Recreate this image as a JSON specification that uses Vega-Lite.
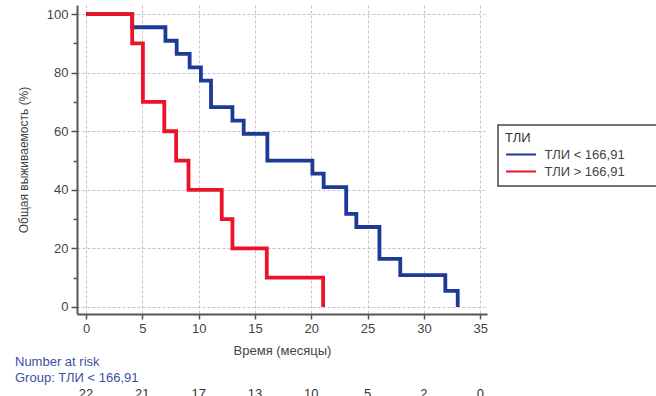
{
  "$schema": "https://vega.github.io/schema/vega-lite/v6.json",
  "padding": {"left": 15, "top": 5, "right": 0, "bottom": 0},
  "background": "white",
  "config": {
    "view": {"stroke": null},
    "font": "Liberation Sans",
    "axis": {
      "domainColor": "#555555",
      "domainWidth": 2,
      "tickColor": "#555555",
      "tickWidth": 1.5,
      "labelColor": "#444444",
      "labelFontSize": 13,
      "titleColor": "#444444",
      "titleFontWeight": "normal",
      "gridColor": "#cdbfcd",
      "gridDash": [3, 2],
      "gridWidth": 1
    },
    "legend": {
      "strokeColor": "#444444",
      "strokeWidth": 1.5,
      "fillColor": "white",
      "padding": 7,
      "cornerRadius": 0,
      "titleFontSize": 13,
      "titleFontWeight": "normal",
      "titleColor": "#333333",
      "labelFontSize": 13,
      "labelColor": "#444444"
    }
  },
  "datasets": {
    "km": [
      {"group": "ТЛИ < 166,91", "t": 0, "s": 100},
      {"group": "ТЛИ < 166,91", "t": 4.1, "s": 95.5},
      {"group": "ТЛИ < 166,91", "t": 7.05, "s": 90.9},
      {"group": "ТЛИ < 166,91", "t": 8.05, "s": 86.4},
      {"group": "ТЛИ < 166,91", "t": 9.2, "s": 81.8},
      {"group": "ТЛИ < 166,91", "t": 10.2, "s": 77.3},
      {"group": "ТЛИ < 166,91", "t": 11.1, "s": 68.2},
      {"group": "ТЛИ < 166,91", "t": 13.0, "s": 63.6},
      {"group": "ТЛИ < 166,91", "t": 14.0, "s": 59.1},
      {"group": "ТЛИ < 166,91", "t": 16.1, "s": 50},
      {"group": "ТЛИ < 166,91", "t": 20.1, "s": 45.5},
      {"group": "ТЛИ < 166,91", "t": 21.1, "s": 40.9},
      {"group": "ТЛИ < 166,91", "t": 23.1, "s": 31.8},
      {"group": "ТЛИ < 166,91", "t": 24.0, "s": 27.3},
      {"group": "ТЛИ < 166,91", "t": 26.05, "s": 16.4},
      {"group": "ТЛИ < 166,91", "t": 27.9, "s": 10.9},
      {"group": "ТЛИ < 166,91", "t": 31.9, "s": 5.5},
      {"group": "ТЛИ < 166,91", "t": 33.0, "s": 0},
      {"group": "ТЛИ > 166,91", "t": 0, "s": 100},
      {"group": "ТЛИ > 166,91", "t": 4.1, "s": 90},
      {"group": "ТЛИ > 166,91", "t": 5.05, "s": 70},
      {"group": "ТЛИ > 166,91", "t": 6.95, "s": 60},
      {"group": "ТЛИ > 166,91", "t": 8.0, "s": 50},
      {"group": "ТЛИ > 166,91", "t": 9.1, "s": 40},
      {"group": "ТЛИ > 166,91", "t": 12.05, "s": 30},
      {"group": "ТЛИ > 166,91", "t": 13.0, "s": 20},
      {"group": "ТЛИ > 166,91", "t": 16.05, "s": 10},
      {"group": "ТЛИ > 166,91", "t": 21.05, "s": 0}
    ],
    "risk": [
      {"t": 0, "n": 22},
      {"t": 5, "n": 21},
      {"t": 10, "n": 17},
      {"t": 15, "n": 13},
      {"t": 20, "n": 10},
      {"t": 25, "n": 5},
      {"t": 30, "n": 2},
      {"t": 35, "n": 0}
    ]
  },
  "bounds": "flush",
  "spacing": 72,
  "vconcat": [
    {
      "width": 410,
      "height": 309,
      "data": {"name": "km"},
      "mark": {"type": "line", "interpolate": "step-after", "strokeWidth": 3.8},
      "encoding": {
        "x": {
          "field": "t",
          "type": "quantitative",
          "title": "Время (месяцы)",
          "scale": {"domain": [-0.8, 35.6], "nice": false, "zero": false},
          "axis": {
            "values": [0, 5, 10, 15, 20, 25, 30, 35],
            "tickSize": 5,
            "labelPadding": 3,
            "titlePadding": 9,
            "titleFontSize": 13
          }
        },
        "y": {
          "field": "s",
          "type": "quantitative",
          "title": "Общая выживаемость (%)",
          "scale": {"domain": [-2.4, 103.1], "nice": false, "zero": false},
          "axis": {
            "values": [0, 10, 20, 30, 40, 50, 60, 70, 80, 90, 100],
            "labelExpr": "datum.value % 20 === 0 ? datum.label : ''",
            "tickSize": {"condition": {"test": "datum.value % 20 === 0", "value": 6}, "value": 4},
            "gridOpacity": {"condition": {"test": "datum.value % 20 === 0", "value": 1}, "value": 0},
            "labelPadding": 3,
            "titlePadding": 16,
            "titleFontSize": 12
          }
        },
        "color": {
          "field": "group",
          "type": "nominal",
          "scale": {"domain": ["ТЛИ < 166,91", "ТЛИ > 166,91"], "range": ["#1c3a96", "#ea1328"]},
          "legend": {
            "orient": "none",
            "legendX": 421,
            "legendY": 120,
            "title": "ТЛИ",
            "titlePadding": 1,
            "titleLineHeight": 22,
            "symbolType": "M-2,0H2",
            "symbolStrokeWidth": 2,
            "symbolSize": 225,
            "symbolOffset": 7.5,
            "labelOffset": 15,
            "rowPadding": 1,
            "labelExpr": "datum.label + '\u2800\u2800\u2800'"
          }
        }
      }
    },
    {
      "width": 410,
      "height": 16,
      "data": {"name": "risk"},
      "title": {
        "text": ["Number at risk", "Group: ТЛИ < 166,91"],
        "anchor": "start",
        "frame": "group",
        "dx": -62,
        "offset": 1,
        "fontSize": 13,
        "fontWeight": "normal",
        "color": "#3d4fa8",
        "lineHeight": 16
      },
      "mark": {"type": "text", "fontSize": 13, "color": "#333333", "baseline": "middle"},
      "encoding": {
        "x": {
          "field": "t",
          "type": "quantitative",
          "scale": {"domain": [-0.8, 35.6], "nice": false, "zero": false},
          "axis": null
        },
        "text": {"field": "n", "type": "quantitative"}
      }
    }
  ]
}
